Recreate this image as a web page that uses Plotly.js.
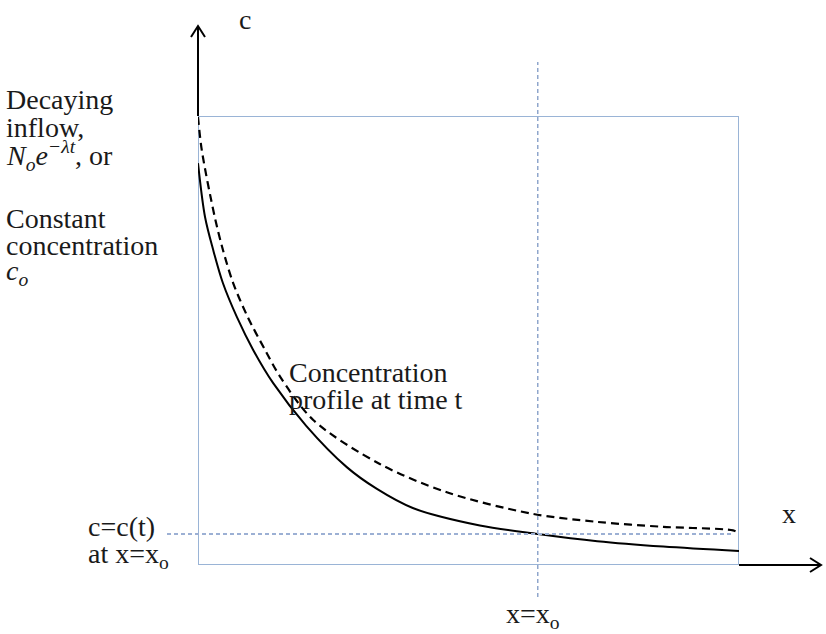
<!DOCTYPE html>
<html>
<head>
<meta charset="utf-8">
<script src="https://cdn.plot.ly/plotly-3.0.1.min.js"></script>
<style>html,body{margin:0;padding:0;background:#fff;}#chart{width:826px;height:634px;}</style>
</head>
<body>
<div id="chart"></div>
<script>
// Distance x (0 = inflow boundary, 10 = end of domain), concentration c (0..10)
const solidX = [0, 0.13, 0.28, 0.46, 0.72, 1.02, 1.39, 2.0, 2.75, 3.3, 3.97, 5.21, 6.28, 7.38, 8.60, 10];
const solidC = [8.95, 7.75, 7.02, 6.28, 5.52, 4.79, 4.05, 3.1, 2.18, 1.70, 1.27, 0.88, 0.69, 0.53, 0.41, 0.31];
const dashX = [0, 0.07, 0.31, 0.46, 0.65, 0.92, 1.24, 1.52, 2.13, 3.36, 4.60, 6.14, 7.38, 8.60, 9.89, 10];
const dashC = [9.98, 9.24, 7.75, 7.02, 6.28, 5.52, 4.79, 4.19, 3.23, 2.25, 1.62, 1.15, 0.96, 0.85, 0.77, 0.71];
const xo = 6.28;   // observation point x = x_o
const ct = 0.69;   // c = c(t) at x = x_o
const xMax = 10, cMax = 10;

const W = 826, H = 634;
const M = {l: 198, r: 87, t: 116, b: 69};
const PW = W - M.l - M.r, PH = H - M.t - M.b;
const px = x => (x - M.l) / PW;
const py = y => (H - M.b - y) / PH;
const pt = (x, y) => px(x).toFixed(5) + ',' + py(y).toFixed(5);

const serif = "Liberation Serif, Times New Roman, serif";
const txtColor = "#1a1a1a";
const fs = 28;
function label(text, x, y, xanchor) {
  return {text: text, xref: 'paper', yref: 'paper', x: px(x), y: py(y),
    xanchor: xanchor || 'left', yanchor: 'middle', showarrow: false,
    font: {family: serif, size: fs, color: txtColor}};
}

const traces = [
  {x: solidX, y: solidC, mode: 'lines', line: {color: '#000', width: 2, shape: 'spline', smoothing: 0.9}, hoverinfo: 'skip'},
  {x: dashX, y: dashC, mode: 'lines', line: {color: '#000', width: 2.2, dash: '8px,5px', shape: 'spline', smoothing: 0.9}, hoverinfo: 'skip'}
];

const axisStyle = {color: '#000', width: 2};
const layout = {
  width: W, height: H,
  margin: M,
  paper_bgcolor: '#fff', plot_bgcolor: '#fff',
  showlegend: false,
  xaxis: {range: [0, xMax], showgrid: false, zeroline: false, showticklabels: false, ticks: '', showline: false, fixedrange: true},
  yaxis: {range: [0, cMax], showgrid: false, zeroline: false, showticklabels: false, ticks: '', showline: false, fixedrange: true},
  shapes: [
    {type: 'rect', xref: 'x', yref: 'y', x0: 0, x1: xMax, y0: 0, y1: cMax, line: {color: '#9ab4d6', width: 2}, layer: 'below'},
    {type: 'line', xref: 'x', yref: 'paper', x0: xo, x1: xo, y0: py(597), y1: py(62), line: {color: '#8fa6cc', width: 1.5, dash: '4px,3px'}},
    {type: 'line', xref: 'paper', yref: 'y', x0: px(167), x1: px(731), y0: ct, y1: ct, line: {color: '#9cb0d4', width: 2, dash: '4px,3px'}},
    // c axis arrow (above the box)
    {type: 'path', xref: 'paper', yref: 'paper', path: 'M' + pt(198, 116) + 'L' + pt(198, 26), line: axisStyle},
    {type: 'path', xref: 'paper', yref: 'paper', path: 'M' + pt(191, 37) + 'L' + pt(198, 26) + 'L' + pt(205, 37), line: axisStyle},
    // x axis arrow (right of the box)
    {type: 'path', xref: 'paper', yref: 'paper', path: 'M' + pt(739, 565) + 'L' + pt(821, 565), line: axisStyle},
    {type: 'path', xref: 'paper', yref: 'paper', path: 'M' + pt(810, 558) + 'L' + pt(821, 565) + 'L' + pt(810, 572), line: axisStyle}
  ],
  annotations: [
    label('c', 245, 19, 'center'),
    label('x', 789, 513, 'center'),
    label('Decaying', 4, 100),
    label('inflow,', 4, 127),
    label('<i>N</i><sub><i>o</i></sub><i>e</i><sup><i>−λt</i></sup>, or', 4, 155),
    label('Constant', 4, 218),
    label('concentration', 4, 246),
    label('<i>c</i><sub><i>o</i></sub>', 4, 272),
    label('Concentration', 287, 372),
    label('profile at time t', 287, 399),
    label('c=c(t)', 86, 526),
    label('at x=x<sub>o</sub>', 86, 555),
    label('x=x<sub>o</sub>', 533, 615, 'center')
  ]
};

Plotly.newPlot('chart', traces, layout, {displayModeBar: false, staticPlot: true});
</script>
</body>
</html>
